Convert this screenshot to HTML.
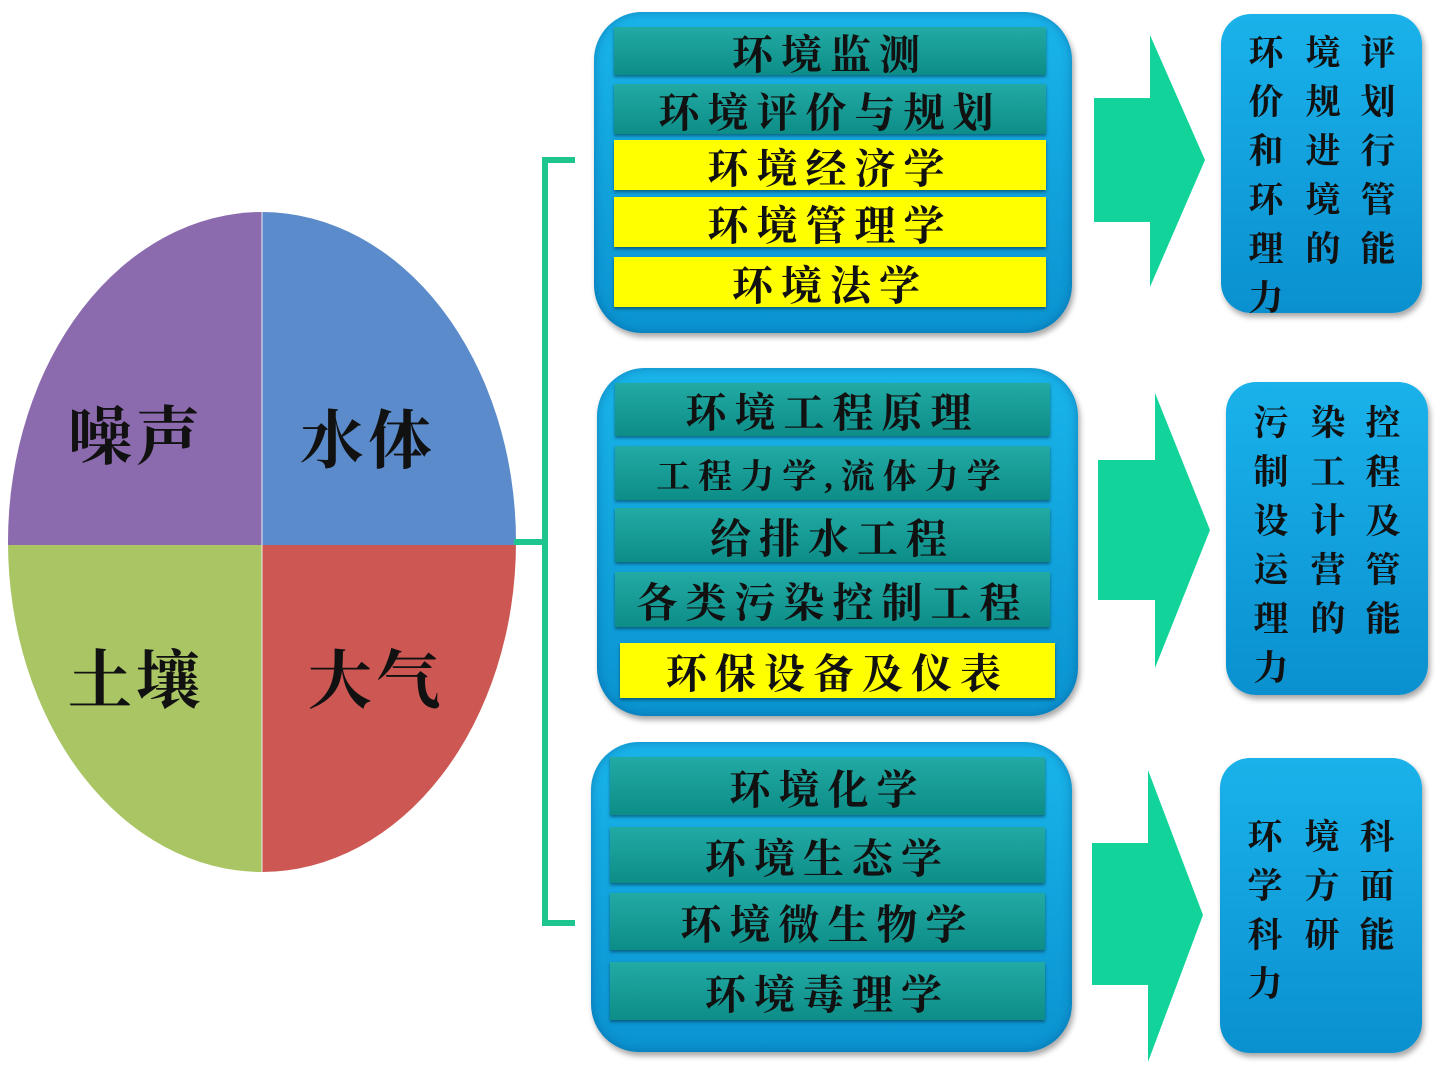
<!DOCTYPE html>
<html><head><meta charset="utf-8"><style>
body{margin:0;width:1436px;height:1077px;background:#fff;position:relative;overflow:hidden;font-family:"Liberation Serif","Noto Serif CJK SC",serif;}
.p{position:absolute;border-radius:48px;background:linear-gradient(#19b4ea,#0a93d0);box-shadow:2px 4px 6px rgba(0,0,0,.35),inset 0 0 10px rgba(0,60,120,.4);}
.b{position:absolute;display:flex;align-items:center;justify-content:center;font-weight:bold;color:#111;font-size:41px;letter-spacing:8px;box-shadow:0 2px 3px rgba(0,0,0,.4);}
.t{background:linear-gradient(#22aaa4,#0d8d88);}
.y{background:#ffff00;}
.r{position:absolute;border-radius:30px;background:linear-gradient(#1ab2ea,#0a90cf);box-shadow:2px 4px 6px rgba(0,0,0,.35);font-weight:bold;font-size:35px;color:#111;}
.r span{position:absolute;width:40px;text-align:center;}
.q{position:absolute;font-weight:bold;font-size:64px;color:#111;letter-spacing:4px;}
</style></head><body>
<svg width="1436" height="1077" style="position:absolute;left:0;top:0">
<defs><clipPath id="c"><ellipse cx="262" cy="542" rx="254" ry="330"/></clipPath></defs>
<g clip-path="url(#c)">
<rect x="0" y="200" width="262" height="345" fill="#8b6bae"/>
<rect x="262" y="200" width="270" height="345" fill="#5b8bca"/>
<rect x="0" y="545" width="262" height="340" fill="#a9c564"/>
<rect x="262" y="545" width="270" height="340" fill="#cc5753"/>
</g>
<line x1="262" y1="212" x2="262" y2="872" stroke="#eee" stroke-width="1"/>
<path d="M575 160 H545 V923 H575 M545 542 H514" fill="none" stroke="#1ec58f" stroke-width="6"/>
<g fill="#12d49a">
<polygon points="1094,98 1150,98 1150,35 1205,160 1150,287 1150,222 1094,222"/>
<polygon points="1098,460 1155,460 1155,393 1210,530 1155,668 1155,600 1098,600"/>
<polygon points="1092,843 1148,843 1148,770 1203,915 1148,1062 1148,985 1092,985"/>
</g>
</svg>
<div class="q" style="left:68px;top:386px">噪声</div>
<div class="q" style="left:300px;top:390px">水体</div>
<div class="q" style="left:68px;top:630px">土壤</div>
<div class="q" style="left:308px;top:630px">大气</div>

<div class="p" style="left:594px;top:12px;width:478px;height:321px"></div>
<div class="b t" style="left:614px;top:27px;width:432px;height:48px">环境监测</div>
<div class="b t" style="left:614px;top:84px;width:432px;height:50px">环境评价与规划</div>
<div class="b y" style="left:614px;top:140px;width:432px;height:50px">环境经济学</div>
<div class="b y" style="left:614px;top:197px;width:432px;height:50px">环境管理学</div>
<div class="b y" style="left:614px;top:257px;width:432px;height:50px">环境法学</div>

<div class="p" style="left:597px;top:368px;width:481px;height:348px"></div>
<div class="b t" style="left:615px;top:383px;width:435px;height:53px">环境工程原理</div>
<div class="b t" style="left:615px;top:446px;width:435px;height:54px;font-size:34px">工程力学,流体力学</div>
<div class="b t" style="left:615px;top:508px;width:435px;height:54px">给排水工程</div>
<div class="b t" style="left:615px;top:572px;width:435px;height:55px">各类污染控制工程</div>
<div class="b y" style="left:620px;top:643px;width:435px;height:55px">环保设备及仪表</div>

<div class="p" style="left:591px;top:742px;width:481px;height:310px"></div>
<div class="b t" style="left:610px;top:757px;width:435px;height:58px">环境化学</div>
<div class="b t" style="left:610px;top:827px;width:435px;height:56px">环境生态学</div>
<div class="b t" style="left:610px;top:893px;width:435px;height:57px">环境微生物学</div>
<div class="b t" style="left:610px;top:962px;width:435px;height:58px">环境毒理学</div>

<div class="r" style="left:1221px;top:14px;width:201px;height:299px">
<span style="left:25px;top:12px">环</span><span style="left:82px;top:12px">境</span><span style="left:137px;top:12px">评</span>
<span style="left:25px;top:61px">价</span><span style="left:82px;top:61px">规</span><span style="left:137px;top:61px">划</span>
<span style="left:25px;top:110px">和</span><span style="left:82px;top:110px">进</span><span style="left:137px;top:110px">行</span>
<span style="left:25px;top:159px">环</span><span style="left:82px;top:159px">境</span><span style="left:137px;top:159px">管</span>
<span style="left:25px;top:208px">理</span><span style="left:82px;top:208px">的</span><span style="left:137px;top:208px">能</span>
<span style="left:25px;top:257px">力</span></div>
<div class="r" style="left:1226px;top:382px;width:202px;height:313px">
<span style="left:25px;top:14px">污</span><span style="left:82px;top:14px">染</span><span style="left:137px;top:14px">控</span>
<span style="left:25px;top:63px">制</span><span style="left:82px;top:63px">工</span><span style="left:137px;top:63px">程</span>
<span style="left:25px;top:112px">设</span><span style="left:82px;top:112px">计</span><span style="left:137px;top:112px">及</span>
<span style="left:25px;top:161px">运</span><span style="left:82px;top:161px">营</span><span style="left:137px;top:161px">管</span>
<span style="left:25px;top:210px">理</span><span style="left:82px;top:210px">的</span><span style="left:137px;top:210px">能</span>
<span style="left:25px;top:259px">力</span></div>
<div class="r" style="left:1220px;top:758px;width:202px;height:295px">
<span style="left:25px;top:52px">环</span><span style="left:82px;top:52px">境</span><span style="left:137px;top:52px">科</span>
<span style="left:25px;top:101px">学</span><span style="left:82px;top:101px">方</span><span style="left:137px;top:101px">面</span>
<span style="left:25px;top:150px">科</span><span style="left:82px;top:150px">研</span><span style="left:137px;top:150px">能</span>
<span style="left:25px;top:199px">力</span></div>
</body></html>
